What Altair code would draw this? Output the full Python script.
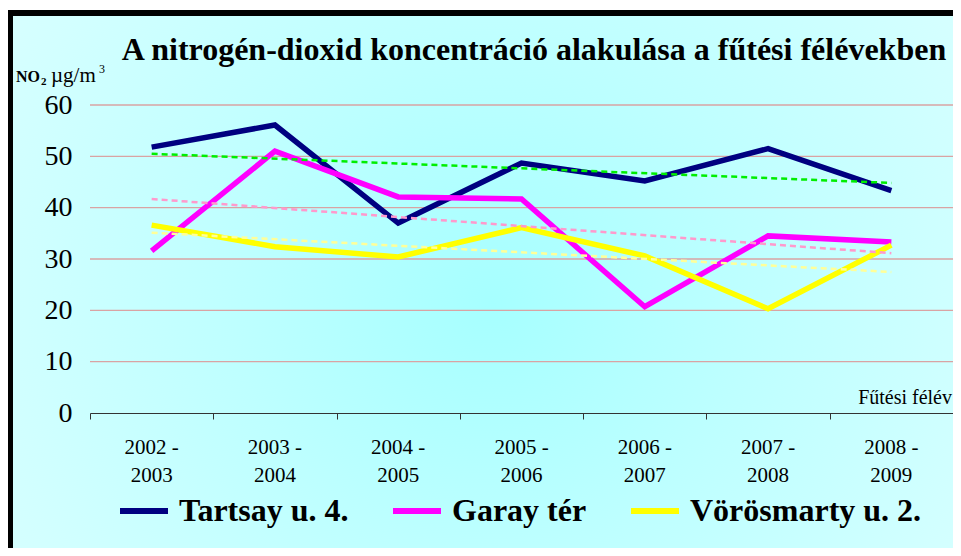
import altair as alt
import pandas as pd

# ---------------- data ----------------
categories = ["2002 -\n2003", "2003 -\n2004", "2004 -\n2005", "2005 -\n2006",
              "2006 -\n2007", "2007 -\n2008", "2008 -\n2009"]
series_names = ["Tartsay u. 4.", "Garay tér", "Vörösmarty u. 2."]
tartsay = [51.8, 56.1, 37.0, 48.7, 45.2, 51.5, 43.3]
garay = [31.6, 51.0, 42.1, 41.7, 20.7, 34.5, 33.3]
vorosmarty = [36.6, 32.4, 30.4, 36.1, 30.6, 20.3, 32.7]
y_ticks = [0, 10, 20, 30, 40, 50, 60]

line_colors = ["#000080", "#FF00FF", "#FFFF00"]
trend_colors = ["#00EE00", "#FF99CC", "#FFFF99"]

title_text = "A nitrogén-dioxid koncentráció alakulása a fűtési félévekben"
x_title_text = "Fűtési félév"

rows = []
for name, vals in zip(series_names, [tartsay, garay, vorosmarty]):
    for i, v in enumerate(vals):
        rows.append({"series": name, "idx": i, "value": v})
df = pd.DataFrame(rows)
cat_df = pd.DataFrame({"idx": list(range(len(categories))), "label": categories})
grid_df = pd.DataFrame({"v": y_ticks[1:]})

W, H = 863, 308
SERIF = "Liberation Serif, Times New Roman, serif"

x_scale = alt.Scale(domain=[-0.5, len(categories) - 0.5], nice=False, zero=False)
y_scale = alt.Scale(domain=[0, 60], nice=False)

one = pd.DataFrame({"a": [0]})

# gradient background
bg = alt.Chart(one).mark_rect(
    color=alt.RadialGradient(
        gradient="radial", x1=0.5, y1=0.52, r1=0, x2=0.5, y2=0.52, r2=0.6,
        stops=[alt.GradientStop(offset=0, color="#A6FFFF"),
               alt.GradientStop(offset=0.45, color="#BEFFFF"),
               alt.GradientStop(offset=1, color="#D8FFFF")]),
).encode(x=alt.value(-77), x2=alt.value(W + 20), y=alt.value(-89), y2=alt.value(H + 140))

frame_top = alt.Chart(one).mark_rule(color="black", strokeWidth=6).encode(
    x=alt.value(-83), x2=alt.value(W + 20), y=alt.value(-92))
frame_left = alt.Chart(one).mark_rule(color="black", strokeWidth=6).encode(
    x=alt.value(-80), y=alt.value(-95), y2=alt.value(H + 140))

grid = alt.Chart(grid_df).mark_rule(color="#D9A3A3", strokeWidth=1.3).encode(
    y=alt.Y("v:Q", scale=y_scale),
    x=alt.value(0), x2=alt.value(W))

lines = alt.Chart(df).mark_line(strokeWidth=5.5, strokeJoin="miter", strokeCap="butt").encode(
    x=alt.X("idx:Q", scale=x_scale,
            axis=alt.Axis(values=[i - 0.5 for i in range(len(categories) + 1)],
                          labels=False, grid=False, tickSize=6, tickColor="#333333",
                          domainColor="#333333", title=None, zindex=1)),
    y=alt.Y("value:Q", scale=y_scale,
            axis=alt.Axis(values=y_ticks, grid=False, domain=False, ticks=False,
                          labelFont=SERIF, labelFontSize=28, labelColor="black",
                          labelPadding=18, title=None, zindex=1)),
    color=alt.Color("series:N", scale=alt.Scale(domain=series_names, range=line_colors),
                    legend=alt.Legend(orient="none", legendX=27, legendY=379,
                                      direction="horizontal", title=None,
                                      symbolType="stroke", symbolStrokeWidth=6,
                                      symbolSize=2304, labelFont=SERIF,
                                      labelFontWeight="bold", labelFontSize=32,
                                      labelColor="black", labelOffset=8,
                                      labelLimit=500, zindex=1,
                                      columnPadding=32, padding=0)),
)

trends = alt.Chart(df).transform_regression(
    "idx", "value", groupby=["series"]
).mark_line(strokeWidth=2.5, strokeDash=[6, 4]).encode(
    x=alt.X("idx:Q", scale=x_scale),
    y=alt.Y("value:Q", scale=y_scale),
    stroke=alt.Stroke("series:N", scale=alt.Scale(domain=series_names, range=trend_colors),
                      legend=None),
)

cat_labels = alt.Chart(cat_df).mark_text(
    font=SERIF, fontSize=21, baseline="alphabetic", lineBreak="\n", lineHeight=28,
    color="black"
).encode(x=alt.X("idx:Q", scale=x_scale), y=alt.value(349), text="label:N")

def txt(s, x, y, size, weight="normal", align="left"):
    return alt.Chart(pd.DataFrame({"t": [s]})).mark_text(
        font=SERIF, fontSize=size, fontWeight=weight, align=align,
        baseline="alphabetic", color="black"
    ).encode(x=alt.value(x), y=alt.value(y), text="t:N")

title = txt(title_text, 444, -45, 32, "bold", "center")
ytitle = [txt("NO", -74, -23, 16, "bold"), txt("2", -49, -20, 11, "bold"),
          txt("µg/m", -39, -23, 21), txt("3", 9, -32, 12)]
xtitle = txt(x_title_text, 862, 299, 20, align="right")

chart = alt.layer(bg, frame_top, frame_left, grid, lines, trends, cat_labels,
                  title, *ytitle, xtitle).properties(
    width=W, height=H,
    padding={"left": 82, "top": 97, "right": 0, "bottom": 135},
    autosize=alt.AutoSizeParams(type="none"),
    background="white",
).configure_view(stroke=None)

chart.save("out.html", embed_options={"renderer": "svg", "actions": False})
